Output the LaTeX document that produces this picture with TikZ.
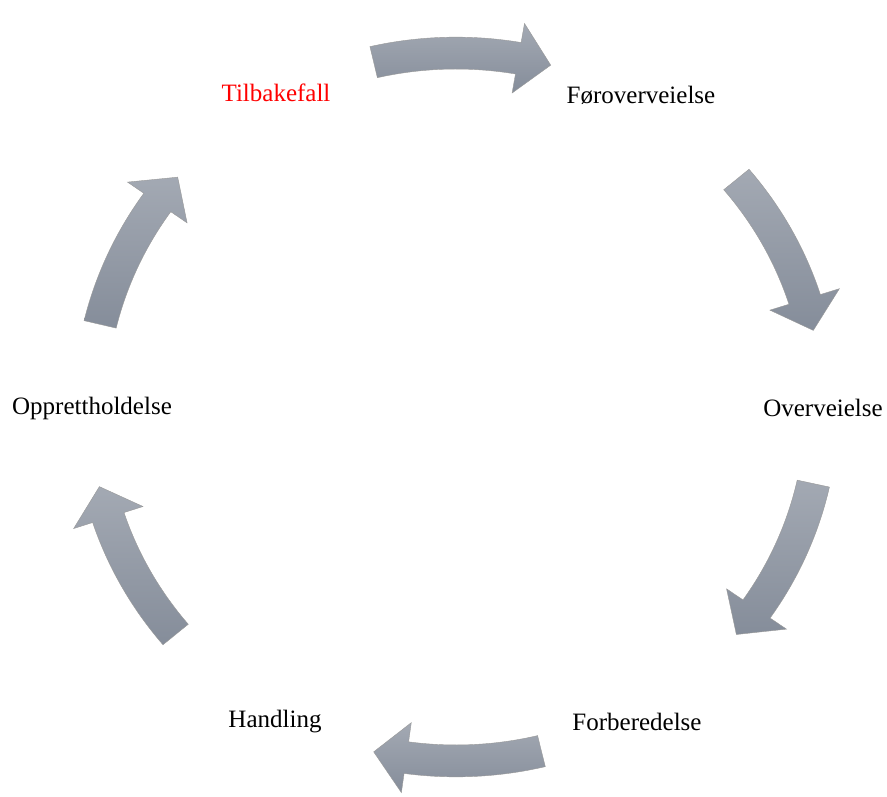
\documentclass[tikz,border=0pt]{standalone}
\usepackage{fontspec}
\setmainfont{Liberation Serif}
\usetikzlibrary{calc}

\definecolor{arrowtop}{HTML}{A3A9B3}
\definecolor{arrowbot}{HTML}{858D9A}

% curved block arrow on the cycle: tail angle, tip angle
\newcommand{\stagearrow}[2]{%
  \pgfmathsetmacro{\headbase}{#2+5.2}
  \path[cyclearrow, shift={(C)}, yscale=0.967]
    (#1:382.5pt) arc[start angle=#1, end angle=\headbase, radius=382.5pt]
    -- (\headbase:402.5pt)
    -- (#2:366pt)
    -- (\headbase:329.5pt)
    -- (\headbase:349.5pt)
    arc[start angle=\headbase, end angle=#1, radius=349.5pt] -- cycle;}

\begin{document}
\begin{tikzpicture}[x=1pt, y=1pt,
    stage/.style={font=\fontsize{25}{30}\selectfont, inner sep=0pt},
    relapse/.style={stage, text=red},
    cyclearrow/.style={draw=black!40, line width=0.4pt,
      top color=arrowtop, bottom color=arrowbot},
]
\useasboundingbox (0,0) rectangle (887,-797);
\coordinate (C) at (456,-407);

% Stages
\node[relapse] (tilbakefall) at (276,-93)  {Tilbakefall};
\node[stage]   (foroverv)    at (641,-95)  {Føroverveielse};
\node[stage]   (overv)       at (823,-408) {Overveielse};
\node[stage]   (forbered)    at (637,-722) {Forberedelse};
\node[stage]   (handling)    at (275,-722) {Handling};
\node[stage]   (oppretth)    at (92,-408)  {Opprettholdelse};

% Arrows round the cycle
\stagearrow{103}{75}
\stagearrow{40}{12.5}
\stagearrow{-12.5}{-40}
\stagearrow{-76.5}{-103}
\stagearrow{-140}{-167}
\stagearrow{166.5}{139.5}
\end{tikzpicture}
\end{document}
